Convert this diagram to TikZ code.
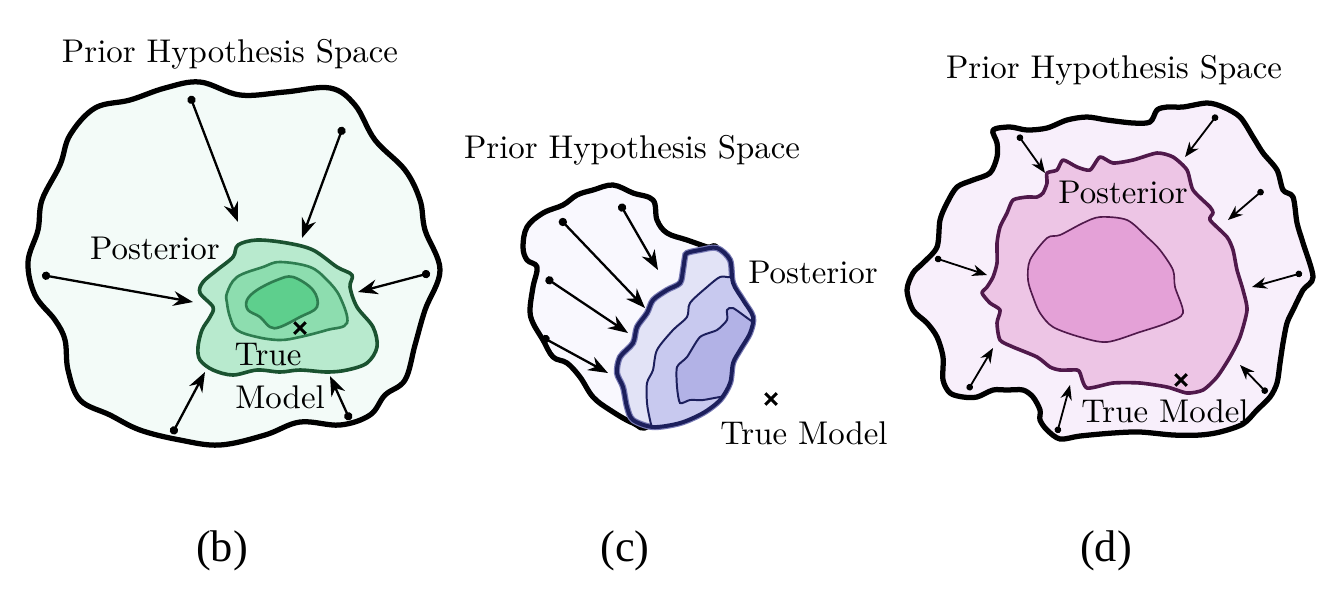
\documentclass[tikz,border=0pt]{standalone}
\usepackage{fontspec}
\newfontfamily\capfont{Liberation Serif}
\usepackage{tikz}
\usetikzlibrary{arrows.meta}
\usetikzlibrary{shapes.misc}

\definecolor{priorB}{RGB}{243,251,248}
\definecolor{postBa}{RGB}{184,234,206}
\definecolor{postBb}{RGB}{141,221,175}
\definecolor{postBc}{RGB}{94,207,141}
\definecolor{edgeB}{RGB}{26,82,48}
\definecolor{lineB}{RGB}{46,125,80}
\definecolor{priorC}{RGB}{249,248,254}
\definecolor{postCa}{RGB}{226,227,246}
\definecolor{postCb}{RGB}{200,201,239}
\definecolor{postCc}{RGB}{178,178,230}
\definecolor{edgeC}{RGB}{28,31,92}
\definecolor{glowC}{RGB}{120,122,180}
\definecolor{priorD}{RGB}{248,239,251}
\definecolor{postDa}{RGB}{237,197,229}
\definecolor{postDb}{RGB}{228,161,215}
\definecolor{edgeD}{RGB}{80,25,75}

\begin{document}
\begin{tikzpicture}[x=0.0107cm, y=-0.0107cm,
    prior/.style={draw=black, line width=1.6pt, line join=round},
    post/.style={line width=1.1pt, line join=round},
    pull/.style={{Circle[length=2.5pt]}-{Stealth[length=6pt,width=4.5pt]}, line width=0.7pt},
    pullsmall/.style={{Circle[length=2pt]}-{Stealth[length=4.5pt,width=3.5pt]}, line width=0.55pt},
    tm/.style={cross out, draw=black, line width=0.9pt, minimum size=2.6pt, inner sep=0pt},
    lbl/.style={inner sep=0pt},
    caption/.style={inner sep=0pt, font=\capfont\fontsize{13.5}{16}\selectfont}]
    \useasboundingbox (0,0) rectangle (1336,612);

    % (b)
    \draw[prior, fill=priorB] plot[smooth cycle, tension=0.6] coordinates {(70,135) (95,108) (130,100) (165,88) (200,82) (240,95) (285,92) (330,88) (355,105) (375,140) (405,170) (420,200) (425,230) (440,270) (425,310) (415,345) (405,380) (385,395) (370,415) (340,425) (300,422) (265,435) (220,445) (180,440) (140,430) (110,415) (80,400) (68,370) (65,340) (55,320) (35,295) (28,262) (38,230) (42,200) (60,165)};
    \draw[post, draw=edgeB, fill=postBa] plot[smooth cycle, tension=0.55] coordinates {(238,245) (257,240) (287,243) (313,250) (337,267) (352,275) (350,287) (357,307) (373,327) (377,347) (367,363) (347,370) (327,372) (300,370) (280,372) (257,370) (233,375) (213,370) (200,360) (198,347) (202,330) (210,317) (213,307) (200,293) (203,282) (217,270) (233,257)};
    \draw[draw=lineB, line width=0.8pt, fill=postBb] plot[smooth cycle, tension=0.6] coordinates {(227,293) (237,277) (263,267) (280,262) (310,267) (327,280) (340,297) (347,323) (327,330) (300,337) (280,340) (257,337) (237,330) (230,317) (227,303)};
    \draw[draw=lineB, line width=0.8pt, fill=postBc] plot[smooth cycle, tension=0.6] coordinates {(247,300) (257,290) (277,280) (293,277) (313,290) (317,307) (300,317) (280,327) (270,327) (260,317) (248,310)};
    \coordinate (bs1) at (190,96);  \coordinate (be1) at (238,222);
    \coordinate (bs2) at (343,127); \coordinate (be2) at (302,238);
    \coordinate (bs3) at (42,275);  \coordinate (be3) at (193,302);
    \coordinate (bs4) at (430,273); \coordinate (be4) at (358,292);
    \coordinate (bs5) at (172,434); \coordinate (be5) at (205,372);
    \coordinate (bs6) at (350,420); \coordinate (be6) at (330,376);
    \foreach \i in {1,...,6}
        \draw[pull] (bs\i) -- (be\i);
    \node[tm] (bx) at (300,328) {};
    \node[lbl] (btitle) at (230,54) {Prior Hypothesis Space};
    \node[lbl] (bpost) at (155,248) {Posterior};
    \node[lbl] (btrue) at (268,355) {True};
    \node[lbl] (bmodel) at (280,397) {Model};
    \node[caption] (bcap) at (222,551) {(b)};

    % (c)
    \draw[prior, fill=priorC] plot[smooth cycle, tension=0.6] coordinates {(613,185) (633,193) (653,200) (657,220) (667,233) (687,240) (707,247) (717,250) (715,300) (690,380) (650,425) (633,423) (610,410) (593,397) (580,377) (567,363) (553,357) (543,340) (533,323) (530,310) (533,287) (537,267) (527,260) (523,247) (527,227) (543,213) (563,205) (577,195) (593,190)};
    \draw[line width=1.9pt, draw=glowC, fill=postCa] plot[smooth cycle, tension=0.5] coordinates {(687,253) (700,250) (717,248) (730,260) (733,283) (743,300) (753,317) (750,333) (740,350) (733,363) (730,383) (720,400) (703,413) (680,423) (653,427) (633,420) (627,407) (623,387) (617,373) (620,357) (633,343) (637,327) (647,313) (653,300) (667,290) (680,283) (683,270) (685,257)};
    \begin{scope}
        \clip plot[smooth cycle, tension=0.5] coordinates {(687,253) (700,250) (717,248) (730,260) (733,283) (743,300) (753,317) (750,333) (740,350) (733,363) (730,383) (720,400) (703,413) (680,423) (653,427) (633,420) (627,407) (623,387) (617,373) (620,357) (633,343) (637,327) (647,313) (653,300) (667,290) (680,283) (683,270) (685,257)};
        \fill[postCb] plot[smooth, tension=0.5] coordinates {(740,272) (730,277) (720,277) (707,287) (690,303) (687,317) (673,330) (657,350) (653,370) (647,383) (647,403) (650,420) (655,440)} -- (800,440) -- (800,272) -- cycle;
        \draw[edgeC, line width=0.6pt] plot[smooth, tension=0.5] coordinates {(740,272) (730,277) (720,277) (707,287) (690,303) (687,317) (673,330) (657,350) (653,370) (647,383) (647,403) (650,420) (655,440)};
        \fill[postCc] plot[smooth, tension=0.4] coordinates {(765,330) (750,320) (733,308) (727,310) (727,320) (717,330) (700,337) (687,357) (677,367) (677,387) (680,403) (690,400) (703,400) (720,397) (740,395)} -- (800,395) -- (800,330) -- cycle;
        \draw[edgeC, line width=0.6pt] plot[smooth, tension=0.4] coordinates {(765,330) (750,320) (733,308) (727,310) (727,320) (717,330) (700,337) (687,357) (677,367) (677,387) (680,403) (690,400) (703,400) (720,397) (740,395)};
    \end{scope}
    \draw[post, draw=edgeC, line width=1.2pt] plot[smooth cycle, tension=0.5] coordinates {(687,253) (700,250) (717,248) (730,260) (733,283) (743,300) (753,317) (750,333) (740,350) (733,363) (730,383) (720,400) (703,413) (680,423) (653,427) (633,420) (627,407) (623,387) (617,373) (620,357) (633,343) (637,327) (647,313) (653,300) (667,290) (680,283) (683,270) (685,257)};
    \coordinate (cs1) at (560,219); \coordinate (ce1) at (645,308);
    \coordinate (cs2) at (620,204); \coordinate (ce2) at (658,270);
    \coordinate (cs3) at (546,278); \coordinate (ce3) at (628,333);
    \coordinate (cs4) at (542,337); \coordinate (ce4) at (608,373);
    \foreach \i in {1,...,4}
        \draw[pull] (cs\i) -- (ce\i);
    \node[tm] (cx) at (771,399) {};
    \node[lbl] (ctitle) at (632,150) {Prior Hypothesis Space};
    \node[lbl] (cpost) at (813,272) {Posterior};
    \node[lbl] (ctm) at (804,433) {True Model};
    \node[caption] (ccap) at (625,551) {(c)};

    % (d)
    \draw[prior, fill=priorD] plot[smooth cycle, tension=0.5] coordinates {(993,130) (1010,127) (1027,130) (1047,128) (1067,120) (1087,117) (1107,120) (1133,123) (1150,122) (1157,110) (1167,107) (1183,107) (1207,103) (1223,107) (1240,117) (1253,137) (1263,153) (1277,170) (1283,190) (1293,197) (1297,223) (1303,243) (1313,277) (1303,290) (1293,310) (1287,323) (1283,343) (1280,363) (1277,383) (1270,397) (1257,410) (1243,424) (1220,432) (1200,435) (1173,435) (1140,432) (1113,433) (1080,436) (1060,439) (1047,430) (1040,420) (1040,410) (1033,397) (1023,390) (1007,390) (993,390) (977,397) (963,397) (950,393) (943,380) (943,357) (937,337) (927,323) (913,310) (907,290) (913,273) (923,263) (937,247) (940,220) (947,203) (957,187) (973,180) (990,173) (997,157) (997,143)};
    \draw[post, draw=edgeD, fill=postDa] plot[smooth cycle, tension=0.4] coordinates {(1047,173) (1057,170) (1063,160) (1077,167) (1090,170) (1100,157) (1113,163) (1133,160) (1157,153) (1173,157) (1187,170) (1193,190) (1210,207) (1213,213) (1210,220) (1227,237) (1233,250) (1237,270) (1243,290) (1247,310) (1240,337) (1230,357) (1217,377) (1203,390) (1187,393) (1167,387) (1140,383) (1113,383) (1087,388) (1080,373) (1077,370) (1060,370) (1050,367) (1037,357) (1013,347) (1000,340) (997,323) (1000,310) (990,303) (982,293) (987,287) (993,277) (997,263) (997,243) (1000,227) (1007,213) (1013,200) (1027,197) (1037,197) (1043,193) (1047,183)};
    \draw[draw=edgeD, line width=0.5pt, fill=postDb] plot[smooth cycle, tension=0.5] coordinates {(1030,260) (1047,238) (1060,235) (1083,223) (1100,217) (1127,220) (1147,237) (1160,250) (1173,270) (1175,287) (1183,313) (1167,323) (1140,332) (1107,342) (1080,337) (1053,327) (1040,313) (1033,297) (1028,280)};
    \coordinate (ds1) at (1018,135); \coordinate (de1) at (1045,173);
    \coordinate (ds2) at (1217,115); \coordinate (de2) at (1185,157);
    \coordinate (ds3) at (1263,190); \coordinate (de3) at (1228,220);
    \coordinate (ds4) at (935,258);  \coordinate (de4) at (987,275);
    \coordinate (ds5) at (1302,273); \coordinate (de5) at (1252,287);
    \coordinate (ds6) at (968,390);  \coordinate (de6) at (993,348);
    \coordinate (ds7) at (1057,433); \coordinate (de7) at (1070,385);
    \coordinate (ds8) at (1267,393); \coordinate (de8) at (1240,365);
    \foreach \i in {1,...,8}
        \draw[pullsmall] (ds\i) -- (de\i);
    \node[tm] (dx) at (1181,380) {};
    \node[lbl] (dtitle) at (1114,70) {Prior Hypothesis Space};
    \node[lbl] (dpost) at (1123,192) {Posterior};
    \node[lbl] (dtm) at (1165,411) {True Model};
    \node[caption] (dcap) at (1106,551) {(d)};
\end{tikzpicture}
\end{document}
